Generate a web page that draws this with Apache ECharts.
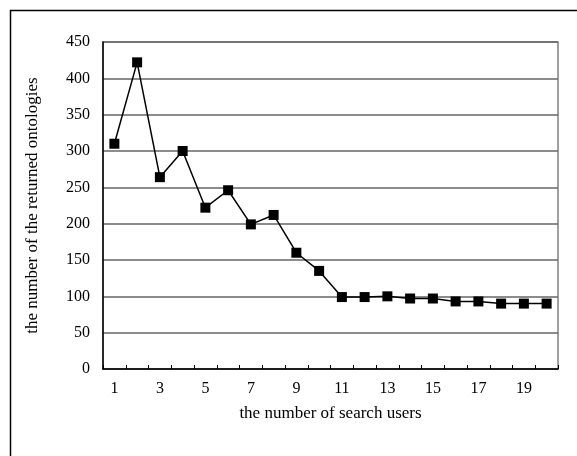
<!DOCTYPE html>
<html>
<head>
<meta charset="utf-8">
<script src="https://cdn.jsdelivr.net/npm/echarts@6/dist/echarts.min.js"></script>
<style>html,body{margin:0;padding:0;background:#fff}#c{width:577px;height:456px}</style>
</head>
<body>
<div id="c"></div>
<script>
const categories = ['1','2','3','4','5','6','7','8','9','10','11','12','13','14','15','16','17','18','19','20'];
const returnedOntologies = [310, 422, 264, 300, 222, 246, 199, 212, 160, 135, 99, 99, 100, 97, 97, 93, 93, 90, 90, 90];
const yTicks = {min: 0, max: 450, interval: 50};
const xTitle = 'the number of search users';
const yTitle = 'the number of the returned ontologies';

const chart = echarts.init(document.getElementById('c'));
const font = 'Liberation Serif';
chart.setOption({
  animation: false,
  backgroundColor: '#fff',
  graphic: [{
    type: 'rect', left: 8, top: 8, shape: {width: 600, height: 480},
    style: {fill: 'none', stroke: '#000', lineWidth: 1.5}, silent: true
  }],
  grid: {left: 103, right: 19, top: 42, bottom: 87, show: true, borderColor: '#808080', borderWidth: 1.5},
  xAxis: {
    type: 'category', data: categories, boundaryGap: true,
    name: xTitle, nameLocation: 'middle', nameGap: 36,
    nameTextStyle: {fontFamily: font, fontSize: 17, color: '#000'},
    axisLine: {lineStyle: {color: '#000', width: 1.5}},
    axisTick: {show: true, inside: true, length: 4, lineStyle: {color: '#000'}, interval: 0},
    axisLabel: {interval: 1, fontFamily: font, fontSize: 16, color: '#000', margin: 12}
  },
  yAxis: {
    type: 'value', min: yTicks.min, max: yTicks.max, interval: yTicks.interval,
    name: yTitle, nameLocation: 'middle', nameGap: 62,
    nameTextStyle: {fontFamily: font, fontSize: 17, color: '#000'},
    axisLine: {show: true, lineStyle: {color: '#000', width: 1.5}},
    axisTick: {show: false},
    axisLabel: {fontFamily: font, fontSize: 16, color: '#000', margin: 13},
    splitLine: {show: true, lineStyle: {color: '#666', width: 1.5}}
  },
  series: [{
    type: 'line', data: returnedOntologies,
    symbol: 'rect', symbolSize: 10,
    lineStyle: {color: '#000', width: 1.5},
    itemStyle: {color: '#000'}
  }]
});
</script>
</body>
</html>
